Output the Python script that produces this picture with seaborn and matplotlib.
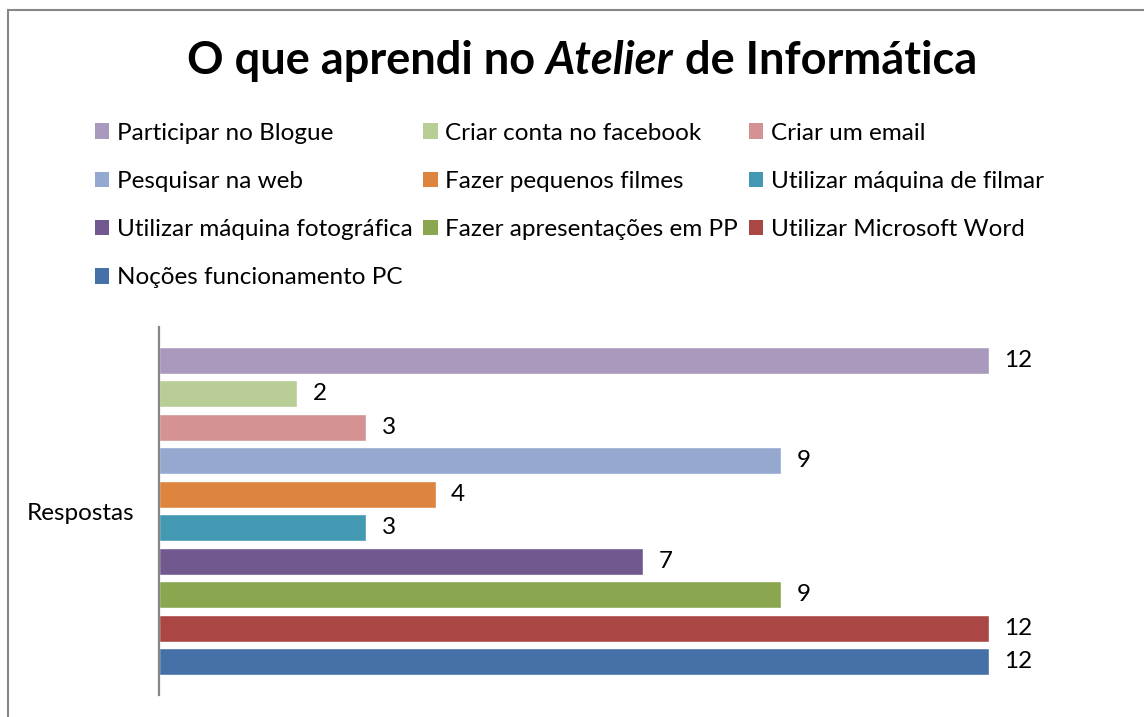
import pandas as pd
import matplotlib.pyplot as plt
import seaborn as sns
from matplotlib.patches import Rectangle, Patch

# ========= DADOS =========
categorias = [
    'Participar no Blogue', 'Criar conta no facebook', 'Criar um email',
    'Pesquisar na web', 'Fazer pequenos filmes', 'Utilizar máquina de filmar',
    'Utilizar máquina fotográfica', 'Fazer apresentações em PP',
    'Utilizar Microsoft Word', 'Noções funcionamento PC',
]
respostas = [12, 2, 3, 9, 4, 3, 7, 9, 12, 12]
cores = ['#A99ABD', '#B9CD96', '#D49392', '#95A9D0', '#DD843E',
         '#4299B1', '#71588F', '#8AA64F', '#AA4644', '#4571A8']
grupo = 'Respostas'

df = pd.DataFrame({'grupo': grupo, 'item': categorias, 'valor': respostas})

# ========= FIGURA =========
sns.set_style('white')
plt.rcParams['font.family'] = ['Lato', 'DejaVu Sans']
plt.rcParams['text.color'] = 'black'
plt.rcParams['ytick.color'] = 'black'

fig = plt.figure(figsize=(11.44, 7.17), dpi=100)
ax = fig.add_axes([159 / 1144, 22 / 717, 968 / 1144, 368 / 717])

sns.barplot(data=df, x='valor', y='grupo', hue='item', hue_order=categorias,
            palette=cores, orient='h', width=0.91, gap=0.2, saturation=1,
            legend=False, ax=ax)

ax.set_xlim(0, 14)
ax.set_ylim(0.5, -0.5)
ax.set_xticks([])
ax.set_xlabel('')
ax.set_ylabel('')
ax.tick_params(axis='y', length=0, labelsize=17.5, labelcolor='black', pad=17.5)
for s in ['top', 'right', 'bottom']:
    ax.spines[s].set_visible(False)
ax.spines['left'].set_color('#868686')
ax.spines['left'].set_linewidth(1.6)

for c in ax.containers:
    ax.bar_label(c, padding=11, fontsize=17.5, color='black')

# ========= LEGENDA (preenchida por linhas) =========
ordem = [0, 3, 6, 9, 1, 4, 7, 2, 5, 8]
handles = [Patch(facecolor=cores[i], edgecolor='none') for i in ordem]
labels = [categorias[i] for i in ordem]
fig.legend(handles, labels, ncol=3, loc='upper left',
           bbox_to_anchor=(85 / 1144, 1 - 113 / 717), frameon=False,
           fontsize=17.5, handlelength=0.6, handleheight=0.6,
           handletextpad=0.3, columnspacing=0.45, labelspacing=1.12,
           borderaxespad=0, labelcolor='black')

# ========= TÍTULO (com "Atelier" em itálico) =========
fig.canvas.draw()
r = fig.canvas.get_renderer()
ty = 1 - 61 / 717
fs = 32.5
partes = [('O que aprendi no', 'normal'), ('Atelier', 'italic'), ('de Informática', 'normal')]
txts = [fig.text(0, ty, p, fontsize=fs, fontweight='bold', style=st, va='center',
                 color='black')
        for p, st in partes]
sp = fig.text(0, 0, 'a a', fontsize=fs, fontweight='bold')
sp2 = fig.text(0, 0, 'aa', fontsize=fs, fontweight='bold')
espaco = sp.get_window_extent(r).width - sp2.get_window_extent(r).width
sp.remove()
sp2.remove()
larg = [t.get_window_extent(r).width for t in txts]
total = sum(larg) + 2 * espaco
x = 582 - total / 2
for t, w in zip(txts, larg):
    t.set_x(x / 1144)
    x += w + espaco

# ========= MOLDURA =========
fig.patches.append(Rectangle((8 / 1144, -0.1), 1.2, 1 - 10 / 717 + 0.1,
                             transform=fig.transFigure, fill=False,
                             edgecolor='#878787', linewidth=1.5))

fig.savefig('out.png', dpi=100)
